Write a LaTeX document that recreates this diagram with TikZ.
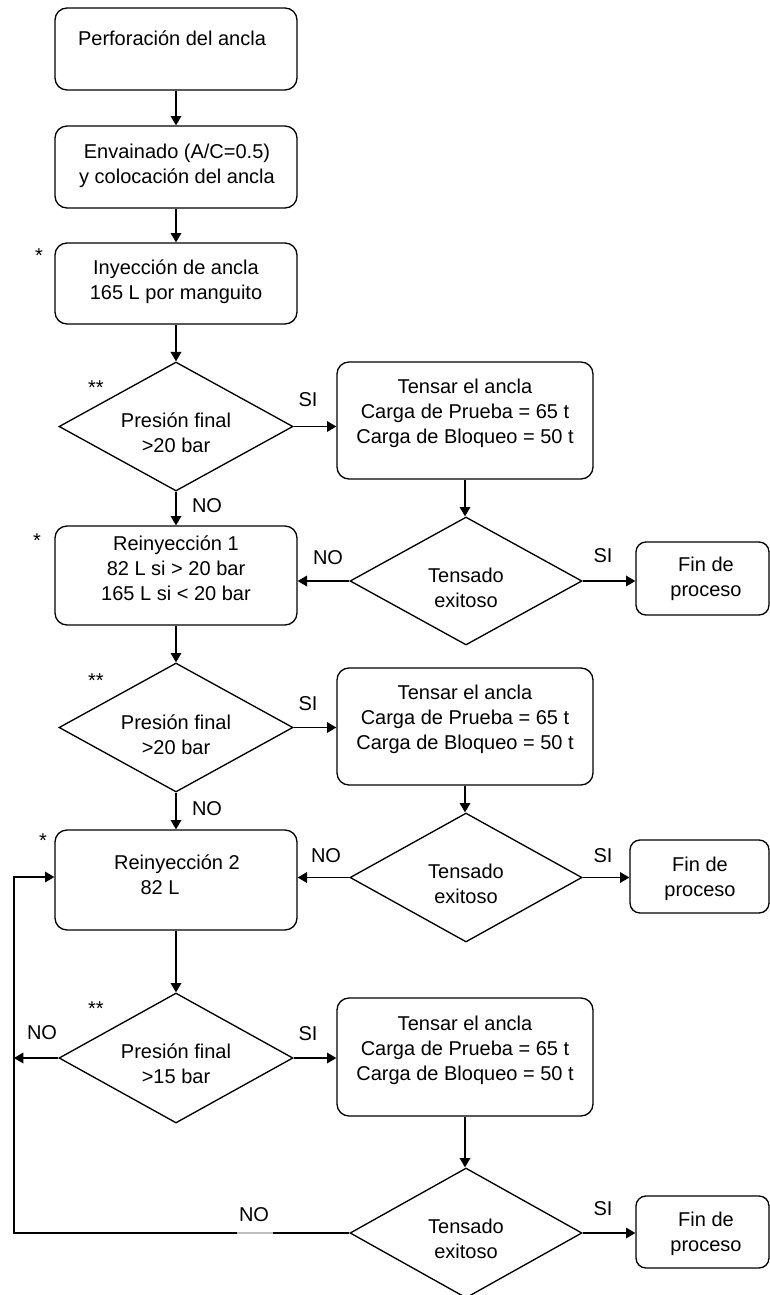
\documentclass[tikz,border=0pt]{standalone}
\usepackage{fontspec}
\setmainfont{Liberation Sans}
\usetikzlibrary{shapes.geometric,arrows.meta}
\newcommand{\ml}[1]{\begin{tabular}[t]{@{}c@{}}#1\end{tabular}}
\begin{document}
\begin{tikzpicture}[x=0.75pt,y=-0.75pt,
  line width=1pt,
  box/.style={draw, rounded corners=9pt, inner sep=0pt},
  finbox/.style={draw, rounded corners=7.5pt, inner sep=0pt},
  dia/.style={draw, diamond, inner sep=0pt},
  txt/.style={anchor=base, inner sep=0pt, font=\fontsize{15pt}{18.75pt}\selectfont},
  arr/.style={-{Triangle[length=7pt,width=8pt]}}
]
\useasboundingbox (0,0) rectangle (770,1295);

% boxes
\node[box, minimum width=181.5pt, minimum height=61.5pt] (b1) at (176,49) {};
\node[box, minimum width=181.5pt, minimum height=61.5pt] (b2) at (176,167) {};
\node[box, minimum width=181.5pt, minimum height=60.75pt] (b3) at (176,283.5) {};
\node[dia, minimum width=175.5pt, minimum height=96.75pt] (d1) at (176,426.5) {};
\node[box, minimum width=192pt, minimum height=87.75pt] (t1) at (465,420.5) {};
\node[dia, minimum width=174pt, minimum height=96pt] (d2) at (466,581) {};
\node[finbox, minimum width=99.75pt, minimum height=54.75pt] (f1) at (702.5,578.5) {};
\node[box, minimum width=181.5pt, minimum height=74.25pt] (r1) at (176,575.5) {};
\node[dia, minimum width=175.5pt, minimum height=96.75pt] (d3) at (176,727.5) {};
\node[box, minimum width=192pt, minimum height=87.75pt] (t2) at (465,726.5) {};
\node[dia, minimum width=174pt, minimum height=96.75pt] (d4) at (466,877.5) {};
\node[finbox, minimum width=104.25pt, minimum height=54.75pt] (f2) at (699.5,876.5) {};
\node[box, minimum width=181.5pt, minimum height=75pt] (r2) at (176,880) {};
\node[dia, minimum width=175.5pt, minimum height=97.5pt] (d5) at (176,1058) {};
\node[box, minimum width=192pt, minimum height=88.5pt] (t3) at (465,1057) {};
\node[dia, minimum width=174pt, minimum height=97.5pt] (d6) at (466,1233) {};
\node[finbox, minimum width=99.75pt, minimum height=54pt] (f3) at (702.5,1232) {};
\coordinate (lp) at (14,877);

% texts
\node[txt] (b1t) at (172,46) {Perforación del ancla};
\node[txt] (b2t) at (177,158) {\ml{Envainado (A/C=0.5)\\y colocación del ancla}};
\node[txt] (b3t) at (176,274) {\ml{Inyección de ancla\\165 L por manguito}};
\node[txt] (d1t) at (176,427) {\ml{Presión final\\>20 bar}};
\node[txt] (t1t) at (465,393) {\ml{Tensar el ancla\\Carga de Prueba = 65 t\\Carga de Bloqueo = 50 t}};
\node[txt] (d2t) at (466,582) {\ml{Tensado\\exitoso}};
\node[txt] (f1t) at (706,571) {\ml{Fin de\\proceso}};
\node[txt] (r1t) at (176,550) {\ml{Reinyección 1\\82 L si > 20 bar\\165 L si < 20 bar}};
\node[txt] (d3t) at (176,729) {\ml{Presión final\\>20 bar}};
\node[txt] (t2t) at (465,699) {\ml{Tensar el ancla\\Carga de Prueba = 65 t\\Carga de Bloqueo = 50 t}};
\node[txt] (d4t) at (466,878) {\ml{Tensado\\exitoso}};
\node[txt] (f2t) at (700,871) {\ml{Fin de\\proceso}};
\node[txt] (r2ta) at (177,869) {Reinyección 2};
\node[txt] (r2tb) at (160,894) {82 L};
\node[txt] (d5t) at (176,1058) {\ml{Presión final\\>15 bar}};
\node[txt] (t3t) at (465,1030) {\ml{Tensar el ancla\\Carga de Prueba = 65 t\\Carga de Bloqueo = 50 t}};
\node[txt] (d6t) at (466,1233) {\ml{Tensado\\exitoso}};
\node[txt] (f3t) at (706,1226) {\ml{Fin de\\proceso}};

% labels
\node[txt] (si1) at (308,406) {SI};
\node[txt] (si2) at (308,710) {SI};
\node[txt] (si3) at (308,1040) {SI};
\node[txt] (no1) at (207,512) {NO};
\node[txt] (no2) at (207,815) {NO};
\node[txt] (no3) at (328,564) {NO};
\node[txt] (no4) at (326,862) {NO};
\node[txt] (si4) at (603,562) {SI};
\node[txt] (si5) at (603,862) {SI};
\node[txt] (si6) at (603,1215) {SI};
\node[txt] (no5) at (42,1039) {NO};
\node[txt] (no6) at (254,1221) {NO};
\node[txt] (s1) at (39,262) {*};
\node[txt] (s2) at (37,547) {*};
\node[txt] (s3) at (43,847) {*};
\node[txt] (ss1) at (96,394) {**};
\node[txt] (ss2) at (96,687) {**};
\node[txt] (ss3) at (96,1015) {**};

% connectors
\draw[arr] (b1) -- (b2);
\draw[arr] (b2) -- (b3);
\draw[arr] (b3) -- (d1);
\draw[arr] (d1) -- (r1);
\draw[arr] (d1.east) -- (d1.east -| t1.west);
\draw[arr] (t1.south) -- (t1.south |- d2.north);
\draw[arr] (d2.west) -- (d2.west -| r1.east);
\draw[arr] (d2.east) -- (d2.east -| f1.west);
\draw[arr] (r1) -- (d3);
\draw[arr] (d3.east) -- (d3.east -| t2.west);
\draw[arr] (t2.south) -- (t2.south |- d4.north);
\draw[arr] (d4.west) -- (d4.west -| r2.east);
\draw[arr] (d4.east) -- (d4.east -| f2.west);
\draw[arr] (d3) -- (r2);
\draw[arr] (r2) -- (d5);
\draw[arr] (d5.east) -- (d5.east -| t3.west);
\draw[arr] (t3.south) -- (t3.south |- d6.north);
\draw[arr] (d6.east) -- (d6.east -| f3.west);
\draw[arr] (d5.west) -- (d5.west -| lp);
\draw[arr] (d6.west) -| (lp) -- (lp -| r2.west);
\draw[black!25] (237,1233) -- (273,1233);
\end{tikzpicture}
\end{document}
